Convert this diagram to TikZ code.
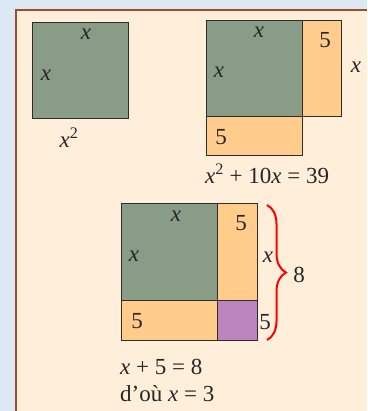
\documentclass[tikz,border=0pt]{standalone}
\usepackage{fontspec}
\setmainfont{Liberation Serif}
\usetikzlibrary{decorations.pathreplacing}
\definecolor{bgblue}{RGB}{221,232,245}
\definecolor{cream}{RGB}{255,238,218}
\definecolor{frame}{RGB}{158,74,53}
\definecolor{sqgreen}{RGB}{136,156,136}
\definecolor{sqorange}{RGB}{255,204,140}
\definecolor{sqpurple}{RGB}{188,132,188}
\definecolor{edge}{RGB}{45,45,45}
\tikzset{
  greenbox/.style={fill=sqgreen,draw=edge,line width=1pt},
  orangebox/.style={fill=sqorange,draw=edge,line width=1pt},
  purplebox/.style={fill=sqpurple,draw=edge,line width=1pt},
  lbl/.style={inner sep=0pt,font=\fontsize{23}{27}\selectfont,text=black!85},
  eq/.style={inner sep=0pt,anchor=west,font=\fontsize{23}{27}\selectfont,text=black!85},
}
\begin{document}
\begin{tikzpicture}[x=1pt,y=-1pt]
\useasboundingbox (0,0) rectangle (367,411);
\fill[bgblue] (0,0) rectangle (367,411);
\fill[cream] (16,10) rectangle (367,411);
\draw[frame,line width=2pt] (16,411) -- (16,10) -- (367,10);
% first square
\draw[greenbox] (32,23) rectangle (128,119);
\node[lbl] (a1) at (86,34) {\textit{x}};
\node[lbl] (a2) at (46,75) {\textit{x}};
\node[lbl] (a3) at (69,138) {\textit{x}\textsuperscript{2}};
% second figure
\draw[orangebox] (302,21) rectangle (341,117);
\draw[orangebox] (206,117) rectangle (302,156);
\draw[greenbox] (206,21) rectangle (302,117);
\node[lbl] (b1) at (259,32) {\textit{x}};
\node[lbl] (b2) at (219,72) {\textit{x}};
\node[lbl] (b3) at (325,40) {5};
\node[lbl] (b4) at (356,67) {\textit{x}};
\node[lbl] (b5) at (221,137) {5};
\node[eq] (b6) at (205,174) {\textit{x}\textsuperscript{2} + 10\textit{x} = 39};
% third figure
\draw[orangebox] (217,204) rectangle (257,300);
\draw[orangebox] (121,300) rectangle (217,340);
\draw[purplebox] (217,300) rectangle (257,340);
\draw[greenbox] (121,204) rectangle (217,300);
\node[lbl] (c1) at (176,216) {\textit{x}};
\node[lbl] (c2) at (134,256) {\textit{x}};
\node[lbl] (c3) at (241,223) {5};
\node[lbl] (c4) at (268,257) {\textit{x}};
\node[lbl] (c5) at (137,321) {5};
\node[lbl] (c6) at (265,322) {5};
\coordinate (btop) at (267,205);
\coordinate (bbot) at (267,340);
\draw[red,line width=2pt,decorate,decoration={brace,amplitude=19pt}] (btop) -- (bbot);
\node[lbl] (c7) at (299,275) {8};
\node[eq] (d1) at (120,367) {\textit{x} + 5 = 8};
\node[eq] (d2) at (120,394) {d’où \textit{x} = 3};
\end{tikzpicture}
\end{document}
